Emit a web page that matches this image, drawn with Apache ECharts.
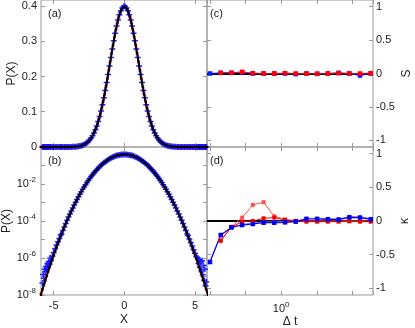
<!DOCTYPE html>
<html><head><meta charset="utf-8">
<script src="https://cdn.jsdelivr.net/npm/echarts@6/dist/echarts.min.js"></script>
<style>html,body{margin:0;padding:0;background:#fff}#c{width:415px;height:328px}</style>
</head><body><div id="c"></div>
<script>
// ---------- panel (a)/(b): probability density ----------
const xGrid = [-6,-5.9,-5.8,-5.7,-5.6,-5.5,-5.4,-5.3,-5.2,-5.1,-5,-4.9,-4.8,-4.7,-4.6,-4.5,-4.4,-4.3,-4.2,-4.1,-4,-3.9,-3.8,-3.7,-3.6,-3.5,-3.4,-3.3,-3.2,-3.1,-3,-2.9,-2.8,-2.7,-2.6,-2.5,-2.4,-2.3,-2.2,-2.1,-2,-1.9,-1.8,-1.7,-1.6,-1.5,-1.4,-1.3,-1.2,-1.1,-1,-0.9,-0.8,-0.7,-0.6,-0.5,-0.4,-0.3,-0.2,-0.1,0,0.1,0.2,0.3,0.4,0.5,0.6,0.7,0.8,0.9,1,1.1,1.2,1.3,1.4,1.5,1.6,1.7,1.8,1.9,2,2.1,2.2,2.3,2.4,2.5,2.6,2.7,2.8,2.9,3,3.1,3.2,3.3,3.4,3.5,3.6,3.7,3.8,3.9,4,4.1,4.2,4.3,4.4,4.5,4.6,4.7,4.8,4.9,5,5.1,5.2,5.3,5.4,5.5,5.6,5.7,5.8,5.9,6];
const pdfRed = [6.076e-9,1.102e-8,1.978e-8,3.514e-8,6.183e-8,1.077e-7,1.857e-7,3.171e-7,5.359e-7,8.972e-7,1.487e-6,2.439e-6,3.961e-6,6.370e-6,1.014e-5,1.598e-5,2.494e-5,3.853e-5,5.894e-5,8.926e-5,1.338e-4,1.987e-4,2.920e-4,4.248e-4,6.119e-4,8.727e-4,1.232e-3,1.723e-3,2.384e-3,3.267e-3,4.432e-3,5.953e-3,7.916e-3,0.01042,0.01358,0.01753,0.02239,0.02833,0.03547,0.04398,0.05399,0.06562,0.07895,0.09405,0.11092,0.12952,0.14973,0.17137,0.19419,0.21785,0.24197,0.26609,0.28969,0.31225,0.33322,0.35207,0.36827,0.38139,0.39104,0.39695,0.39894,0.39695,0.39104,0.38139,0.36827,0.35207,0.33322,0.31225,0.28969,0.26609,0.24197,0.21785,0.19419,0.17137,0.14973,0.12952,0.11092,0.09405,0.07895,0.06562,0.05399,0.04398,0.03547,0.02833,0.02239,0.01753,0.01358,0.01042,7.916e-3,5.953e-3,4.432e-3,3.267e-3,2.384e-3,1.723e-3,1.232e-3,8.727e-4,6.119e-4,4.248e-4,2.920e-4,1.987e-4,1.338e-4,8.926e-5,5.894e-5,3.853e-5,2.494e-5,1.598e-5,1.014e-5,6.370e-6,3.961e-6,2.439e-6,1.487e-6,8.972e-7,5.359e-7,3.171e-7,1.857e-7,1.077e-7,6.183e-8,3.514e-8,1.978e-8,1.102e-8,6.076e-9];
const blueX = [-5.8,-5.75,-5.7,-5.65,-5.6,-5.55,-5.5,-5.45,-5.4,-5.35,-5.3,-5.25,-5.2,-5.1,-5,-4.9,-4.8,-4.7,-4.6,-4.5,
  -4.45,-4.35,-4.25,-4.15,-4.05,-3.95,-3.85,-3.75,-3.65,-3.55,-3.45,-3.35,-3.25,-3.15,-3.05,-2.95,-2.85,-2.75,-2.65,-2.55,-2.45,-2.35,-2.25,-2.15,-2.05,-1.95,-1.85,-1.75,-1.65,-1.55,-1.45,-1.35,-1.25,-1.15,-1.05,-0.95,-0.85,-0.75,-0.65,-0.55,-0.45,-0.35,-0.25,-0.15,-0.05,
  0.05,0.15,0.25,0.35,0.45,0.55,0.65,0.75,0.85,0.95,1.05,1.15,1.25,1.35,1.45,1.55,1.65,1.75,1.85,1.95,2.05,2.15,2.25,2.35,2.45,2.55,2.65,2.75,2.85,2.95,3.05,3.15,3.25,3.35,3.45,3.55,3.65,3.75,3.85,3.95,4.05,4.15,4.25,4.35,4.45,
  4.5,4.6,4.7,4.8,4.9,5,5.1,5.2,5.25,5.3,5.35,5.4,5.45,5.5,5.55,5.6,5.65,5.7,5.75,5.8];
const blueP = [4.5e-8,1.3e-7,8e-8,2.5e-7,1.8e-7,3.5e-7,2.5e-7,5e-7,3.2e-7,6.3e-7,4.5e-7,1e-6,7e-7,1.26e-6,2e-6,3.2e-6,5e-6,7.6e-6,1.12e-5,1.74e-5,
  1.999e-5,3.104e-5,4.772e-5,7.263e-5,1.094e-4,1.633e-4,2.411e-4,3.526e-4,5.104e-4,7.317e-4,1.038e-3,1.459e-3,2.029e-3,2.794e-3,3.810e-3,5.14e-3,6.87e-3,9.09e-3,0.01191,0.01545,0.01984,0.02522,0.03174,0.03955,0.04879,0.05960,0.07207,0.08628,0.10226,0.12001,0.13943,0.16038,0.18265,0.20594,0.22988,0.25406,0.27798,0.30114,0.32297,0.34294,0.36053,0.37524,0.38667,0.39448,0.39844,
  0.39844,0.39448,0.38667,0.37524,0.36053,0.34294,0.32297,0.30114,0.27798,0.25406,0.22988,0.20594,0.18265,0.16038,0.13943,0.12001,0.10226,0.08628,0.07207,0.05960,0.04879,0.03955,0.03174,0.02522,0.01984,0.01545,0.01191,9.09e-3,6.87e-3,5.14e-3,3.810e-3,2.794e-3,2.029e-3,1.459e-3,1.038e-3,7.317e-4,5.104e-4,3.526e-4,2.411e-4,1.633e-4,1.094e-4,7.263e-5,4.772e-5,3.104e-5,1.999e-5,
  1.66e-5,1.07e-5,6.8e-6,4.5e-6,2.8e-6,1.8e-6,1.12e-6,1e-6,5e-7,8e-7,3.2e-7,6.3e-7,2e-7,7e-7,1.26e-7,4e-7,6.3e-8,2.5e-7,3.2e-8,5e-8];
const lineX = [-6,-5.8,-5.6,-5.4,-5.2,-5,-4.8,-4.6,-4.4,-4.2,-4,-3.8,-3.6,-3.4,-3.2,-3,-2.8,-2.6,-2.4,-2.2,-2,-1.8,-1.6,-1.4,-1.2,-1,-0.8,-0.6,-0.4,-0.2,0,0.2,0.4,0.6,0.8,1,1.2,1.4,1.6,1.8,2,2.2,2.4,2.6,2.8,3,3.2,3.4,3.6,3.8,4,4.2,4.4,4.6,4.8,5,5.2,5.4,5.6,5.8,6];
const pdfLine = [6.076e-9,1.978e-8,6.183e-8,1.857e-7,5.359e-7,1.487e-6,3.961e-6,1.014e-5,2.494e-5,5.894e-5,1.338e-4,2.920e-4,6.119e-4,1.232e-3,2.384e-3,4.432e-3,7.916e-3,0.01358,0.02239,0.03547,0.05399,0.07895,0.11092,0.14973,0.19419,0.24197,0.28969,0.33322,0.36827,0.39104,0.39894,0.39104,0.36827,0.33322,0.28969,0.24197,0.19419,0.14973,0.11092,0.07895,0.05399,0.03547,0.02239,0.01358,7.916e-3,4.432e-3,2.384e-3,1.232e-3,6.119e-4,2.920e-4,1.338e-4,5.894e-5,2.494e-5,1.014e-5,3.961e-6,1.487e-6,5.359e-7,1.857e-7,6.183e-8,1.978e-8,6.076e-9];
const xTicks = [-5, 0, 5];
const pTicks = [0, 0.1, 0.2, 0.3, 0.4];
const logPExps = [-8, -6, -4, -2];

// ---------- panel (c)/(d): moments vs Δt ----------
const dt = [0.01,0.02,0.04,0.08,0.16,0.32,0.64,1.28,2.56,5.12,10.24,20.48,40.96,81.92,163.84,327.68];
const skewBlue = [0.0,0.01,0.01,0.01,0.0,0.0,0.0,0.0,-0.01,0.0,-0.005,0.0,0.01,0.0,-0.03,0.0];
const skewRed  = [null,0.01,0.01,0.025,0.005,0.0,0.0,0.005,0.0,0.0,-0.005,0.0,0.005,0.0,0.0,0.005];
const kurtBlue      = [-0.61,-0.21,-0.095,-0.06,-0.045,-0.025,-0.025,-0.02,-0.01,0.03,0.03,0.025,0.02,0.055,0.05,0.025];
const kurtBlueLight = [-0.6,-0.2,-0.1,-0.05,-0.03,-0.015,-0.01,-0.005,0.0,0.04,0.04,0.035,0.03,0.065,0.06,0.035];
const kurtRedPeak   = [null,-0.3,-0.085,0.05,0.24,0.28,0.07,0.025,0.005,0.0,0.0,0.0,0.0,0.0,0.0,0.0];
const kurtRed       = [null,-0.29,-0.09,-0.01,0.0,0.04,0.05,0.015,0.0,-0.01,-0.01,-0.01,-0.01,-0.005,-0.01,-0.01];
const momentTicks = [-1, -0.5, 0, 0.5, 1];
const dtLabelExps = [0];
const panelLabels = ['(a)', '(b)', '(c)', '(d)'];

// ---------- build ----------
const FONT = 'Liberation Sans', TXT = '#222', BORDER = '#999';
const PLUS = 'path://M3,0H5V3H8V5H5V8H3V5H0V3H3Z';
const pairs = (xs, ys) => xs.map((x, i) => [x, ys[i]]).filter(p => p[1] != null);
const tick = (extra) => Object.assign({show: true, inside: true, length: 4, lineStyle: {color: BORDER, width: 1}}, extra || {});
const lbl = (extra) => Object.assign({show: true, color: TXT, fontFamily: FONT, fontSize: 11}, extra || {});
const nameTs = {color: TXT, fontFamily: FONT, fontSize: 12};
const ax = (o) => Object.assign({axisLine: {show: false, onZero: false}, splitLine: {show: false}, axisLabel: {show: false}, axisTick: tick()}, o);
const rich = {
  b: {fontFamily: FONT, fontSize: 11, color: TXT, lineHeight: 16},
  s: {fontFamily: FONT, fontSize: 8, color: TXT, lineHeight: 8, verticalAlign: 'top'}
};
const expOf = v => Math.round(Math.log10(v));
const isExact = v => Math.abs(Math.log10(v) - expOf(v)) < 1e-6;

const XR = {min: -5.9, max: 5.85};
const DTR = {min: 0.00824, max: 379};
const grids = [
  {left: 41, top: 0, width: 166, height: 147},
  {left: 41, top: 147, width: 166, height: 148},
  {left: 207, top: 0, width: 166, height: 147},
  {left: 207, top: 147, width: 166, height: 148}
].map(g => Object.assign(g, {show: true, borderColor: BORDER, borderWidth: 1, backgroundColor: 'transparent', containLabel: false, outerBoundsMode: 'none'}));

const xAxis = [
  ax(Object.assign({gridIndex: 0, type: 'value', position: 'bottom', axisTick: tick({customValues: xTicks})}, XR)),
  ax(Object.assign({gridIndex: 0, type: 'value', position: 'top', axisTick: tick({customValues: xTicks})}, XR)),
  ax(Object.assign({gridIndex: 1, type: 'value', position: 'bottom', axisTick: tick({customValues: xTicks}),
    axisLabel: lbl({customValues: xTicks, margin: 5}),
    name: 'X', nameLocation: 'middle', nameGap: 19, nameTextStyle: nameTs}, XR)),
  ax(Object.assign({gridIndex: 1, type: 'value', position: 'top', axisTick: tick({customValues: xTicks})}, XR)),
  ax(Object.assign({gridIndex: 2, type: 'log', logBase: 10, position: 'bottom'}, DTR)),
  ax(Object.assign({gridIndex: 2, type: 'log', logBase: 10, position: 'top'}, DTR)),
  ax(Object.assign({gridIndex: 3, type: 'log', logBase: 10, position: 'bottom',
    axisLabel: lbl({margin: 6, rich: rich, showMinLabel: true, showMaxLabel: true,
      formatter: v => (isExact(v) && dtLabelExps.includes(expOf(v))) ? '{b|10}{s|' + expOf(v) + '}' : ''}),
    name: 'Δ t', nameLocation: 'middle', nameGap: 21, nameTextStyle: nameTs}, DTR)),
  ax(Object.assign({gridIndex: 3, type: 'log', logBase: 10, position: 'top'}, DTR))
];

const PR = {min: 0, max: 0.417};
const LR = {min: 1e-8, max: 1};
const MR = {min: -1.1, max: 1.1};
const yAxis = [
  ax(Object.assign({gridIndex: 0, type: 'value', position: 'left', axisTick: tick({customValues: pTicks}),
    axisLabel: lbl({customValues: pTicks, margin: 4}),
    name: 'P(X)', nameLocation: 'middle', nameGap: 23, nameRotate: 90, nameTextStyle: nameTs}, PR)),
  ax(Object.assign({gridIndex: 0, type: 'value', position: 'right', axisTick: tick({customValues: pTicks})}, PR)),
  ax(Object.assign({gridIndex: 1, type: 'log', logBase: 10, position: 'left',
    axisLabel: lbl({margin: 5, rich: rich,
      formatter: v => (isExact(v) && logPExps.includes(expOf(v))) ? '{b|10}{s|' + expOf(v) + '}' : ''}),
    name: 'P(X)', nameLocation: 'middle', nameGap: 27, nameRotate: 90, nameTextStyle: nameTs}, LR)),
  ax(Object.assign({gridIndex: 1, type: 'log', logBase: 10, position: 'right'}, LR)),
  ax(Object.assign({gridIndex: 2, type: 'value', position: 'right', axisTick: tick({customValues: momentTicks}),
    axisLabel: lbl({customValues: momentTicks, margin: 3}),
    name: 'S', nameLocation: 'middle', nameGap: 28, nameRotate: 90, nameTextStyle: nameTs}, MR)),
  ax(Object.assign({gridIndex: 2, type: 'value', position: 'left', axisTick: tick({customValues: momentTicks})}, MR)),
  ax(Object.assign({gridIndex: 3, type: 'value', position: 'right', axisTick: tick({customValues: momentTicks}),
    axisLabel: lbl({customValues: momentTicks, margin: 3}),
    name: 'κ', nameLocation: 'middle', nameGap: 25, nameRotate: 90, nameTextStyle: nameTs}, MR)),
  ax(Object.assign({gridIndex: 3, type: 'value', position: 'left', axisTick: tick({customValues: momentTicks})}, MR))
];

function densitySeries(xi, yi) {
  return [
    {type: 'scatter', xAxisIndex: xi, yAxisIndex: yi, data: pairs(xGrid, pdfRed), symbol: 'rect', symbolSize: 3,
      itemStyle: {color: '#ff0000'}, silent: true},
    {type: 'scatter', xAxisIndex: xi, yAxisIndex: yi, data: pairs(blueX, blueP), symbol: PLUS, symbolSize: 6,
      itemStyle: {color: '#1010ff', opacity: 0.9}, silent: true},
    {type: 'line', xAxisIndex: xi, yAxisIndex: yi, data: pairs(lineX, pdfLine), symbol: 'none',
      lineStyle: {color: '#000', width: 2}, silent: true}
  ];
}
const zeroMark = {silent: true, symbol: 'none', z: 1, label: {show: false}, emphasis: {disabled: true},
  lineStyle: {color: '#000', width: 2, type: 'solid'}, data: [{yAxis: 0}]};
function momentLine(xi, yi, vals, color, w, size, withZero) {
  const s = {type: 'line', xAxisIndex: xi, yAxisIndex: yi, data: pairs(dt, vals), symbol: 'rect', symbolSize: size,
    itemStyle: {color: color}, lineStyle: {color: color, width: w}, silent: true};
  if (withZero) s.markLine = zeroMark;
  return s;
}

const series = [].concat(
  densitySeries(0, 0),
  densitySeries(2, 2),
  [momentLine(4, 4, skewBlue, '#1010ff', 1, 4.5, true),
   momentLine(4, 4, skewRed, '#ff0000', 1, 4.5, false),
   momentLine(6, 6, kurtBlueLight, '#7070ff', 1, 3.5, true),
   momentLine(6, 6, kurtRedPeak, '#ff5050', 1, 4, false),
   momentLine(6, 6, kurtRed, '#ee0000', 1, 4, false),
   momentLine(6, 6, kurtBlue, '#0000ee', 1.2, 4.5, false)]
);

const labelPos = [[48, 8], [48, 155], [210, 8], [210, 155]];
const graphic = panelLabels.map((t, i) => ({type: 'text', left: labelPos[i][0], top: labelPos[i][1], z: 100,
  style: {text: t, fill: TXT, font: '11px "Liberation Sans"'}}));

const chart = echarts.init(document.getElementById('c'), null, {renderer: 'canvas'});
chart.setOption({animation: false, backgroundColor: '#fff', grid: grids, xAxis: xAxis, yAxis: yAxis, series: series, graphic: graphic});
</script></body></html>
